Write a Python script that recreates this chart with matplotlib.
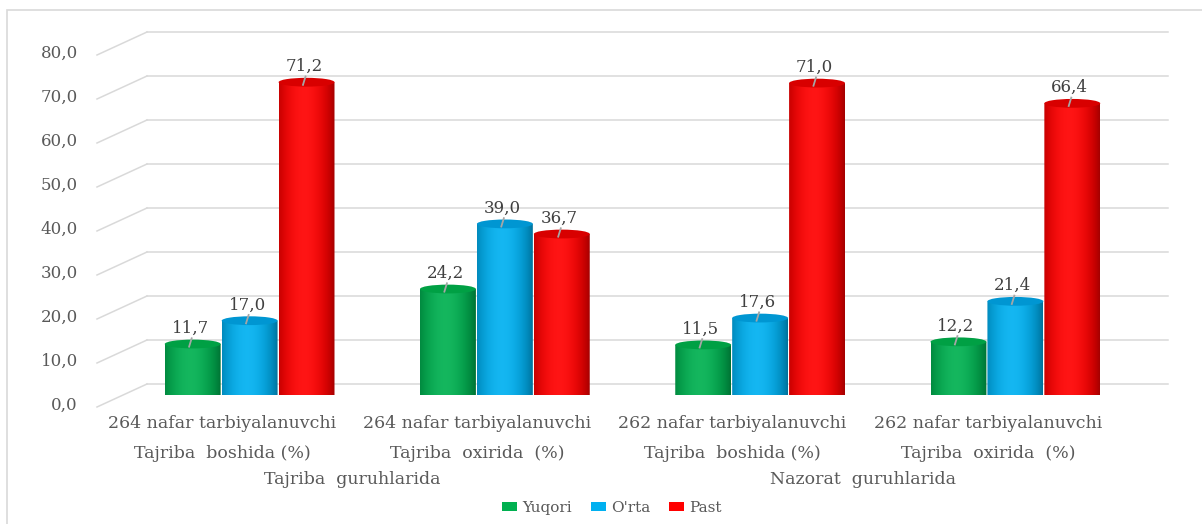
import numpy as np
import matplotlib
matplotlib.use('Agg')
import matplotlib.pyplot as plt
from matplotlib import transforms
from matplotlib.patches import Ellipse, Polygon, Rectangle
from matplotlib.lines import Line2D
from matplotlib.colors import to_rgb

plt.rcParams['font.family'] = ['DejaVu Serif']

# data
categories = ['264 nafar tarbiyalanuvchi', '264 nafar tarbiyalanuvchi',
              '262 nafar tarbiyalanuvchi', '262 nafar tarbiyalanuvchi']
stages = ['Tajriba  boshida (%)', 'Tajriba  oxirida  (%)',
          'Tajriba  boshida (%)', 'Tajriba  oxirida  (%)']
groups = ['Tajriba  guruhlarida', 'Nazorat  guruhlarida']
series = ['Yuqori', "O'rta", 'Past']
yuqori = [11.7, 24.2, 11.5, 12.2]
orta = [17.0, 39.0, 17.6, 21.4]
past = [71.2, 36.7, 71.0, 66.4]
yticks = [0, 10, 20, 30, 40, 50, 60, 70, 80]

colors = ['#00B050', '#00B0F0', '#FF0000']
tops = ['#00A044', '#0096D2', '#D80000']
grey = '#595959'

W, H = 1202, 524
fig = plt.figure(figsize=(W / 100, H / 100), dpi=100)
ax = fig.add_axes([122 / W, 1 - 395.5 / H, 1021 / W, 352 / H])
ax.axis('off')
ax.set_xlim(-0.5, 3.5)
ax.set_ylim(0, 80)
ax.set_autoscale_on(False)

# рамка (видны только верх и лево, как на скриншоте)
fig.add_artist(Rectangle((7 / W, -0.05), 1.1, 1 - 10 / H + 0.05,
                         transform=fig.transFigure, fill=False,
                         ec='#d9d9d9', lw=1.2))

# псевдо-3D: передняя плоскость и задняя стенка
DX, DY = 25, 11.5
front = transforms.offset_copy(ax.transData, fig=fig, x=-DX, y=-DY, units='dots')
back = transforms.offset_copy(ax.transData, fig=fig, x=DX, y=DY, units='dots')
inv = fig.transFigure.inverted()

for v in yticks:
    ax.plot([-0.5, 3.5], [v, v], transform=back, color='#d9d9d9', lw=1.1,
            clip_on=False, zorder=1)
    p0 = inv.transform(front.transform((-0.5, v)))
    p1 = inv.transform(back.transform((-0.5, v)))
    fig.add_artist(Line2D([p0[0], p1[0]], [p0[1], p1[1]], color='#d9d9d9',
                          lw=1.1, transform=fig.transFigure))
    lab_tr = transforms.offset_copy(ax.transData, fig=fig, x=-DX - 19,
                                    y=-DY + 2, units='dots')
    ax.text(-0.5, v, '{:.1f}'.format(v).replace('.', ','), transform=lab_tr,
            ha='right', va='center', fontsize=12, color=grey)


def cylinder(x, h, w, base, top, z):
    eh = 1.0
    x0, x1 = x - w / 2, x + w / 2
    t = np.linspace(0, np.pi, 50)
    bottom = np.column_stack([x - w / 2 * np.cos(t), -eh * np.sin(t)])
    verts = np.vstack([[x0, h], bottom, [x1, h]])
    clip = Polygon(verts, closed=True, transform=ax.transData,
                   fc='none', ec='none')
    ax.add_patch(clip)
    s = np.linspace(0, 1, 120)
    shade = np.clip(np.cos((s - 0.45) * np.pi / 1.15), 0, 1) ** 0.6
    f = 0.55 + 0.45 * shade
    rgb = np.array(to_rgb(base))
    grad = rgb[None, :] * f[:, None]
    grad = grad + (1 - grad) * (0.08 * shade ** 4)[:, None]
    im = ax.imshow(grad[None, :, :], extent=(x0, x1, -eh, h), aspect='auto',
                   interpolation='bilinear', zorder=z)
    im.set_clip_path(clip)
    ax.add_patch(Ellipse((x, h), w, 2 * eh, fc=top, ec='none', zorder=z + 0.05))


bw = 0.219
offs = [-0.223, 0.0, 0.223]
for k, vals in enumerate([yuqori, orta, past]):
    for i, v in enumerate(vals):
        xc = i + offs[k]
        cylinder(xc, v, bw, colors[k], tops[k], 2 + k * 0.1)
        ax.plot([xc - 0.014, xc - 0.004], [v - 0.6, v + 1.3], color='#a6a6a6',
                lw=1.3, zorder=5, clip_on=False)
        ax.text(xc - 0.01, v + 3.6, '{:.1f}'.format(v).replace('.', ','),
                ha='center', va='center', fontsize=12, color='#404040',
                zorder=6, clip_on=False)

ax.set_xlim(-0.5, 3.5)
ax.set_ylim(0, 80)

# многоуровневая ось категорий
row = transforms.blended_transform_factory(front, fig.transFigure)
for i in range(len(categories)):
    ax.text(i - 0.01, 1 - 423 / H, categories[i], transform=row, ha='center',
            va='center', fontsize=12.5, color=grey)
    ax.text(i - 0.01, 1 - 453 / H, stages[i], transform=row, ha='center',
            va='center', fontsize=12.5, color=grey)
for j, g in enumerate(groups):
    ax.text(2 * j + 0.5, 1 - 479 / H, g, transform=row, ha='center',
            va='center', fontsize=12.5, color=grey)

handles = [Rectangle((0, 0), 1, 1, fc=c, ec='none') for c in colors]
fig.legend(handles, series, loc='center', bbox_to_anchor=(612 / W, 1 - 508 / H),
           ncol=3, frameon=False, fontsize=11, handlelength=1.0,
           handleheight=0.45, handletextpad=0.35, columnspacing=1.2,
           labelcolor=grey)

fig.savefig('out.png', dpi=100, facecolor='white')
